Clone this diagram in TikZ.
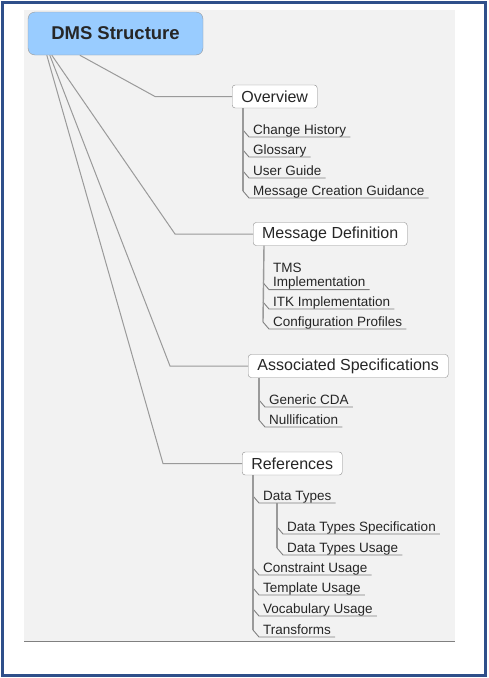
\documentclass[tikz,border=0pt]{standalone}
\usepackage{fontspec}
\setmainfont{Liberation Sans}
\usetikzlibrary{calc}
\definecolor{frame}{HTML}{2F4F8A}
\definecolor{panel}{HTML}{F2F2F2}
\definecolor{rootblue}{HTML}{99CCFF}
\definecolor{linegray}{HTML}{9A9A9A}
\definecolor{txt}{HTML}{262626}
\newcommand\mmkid[4]{%
  \node[item] (#1) at (#2,#3) {#4};
  \draw[uline] ($(#1.base west)+(-10,-4)$) -- ($(#1.base west)+(-4,3)$) -- ($(#1.base east)+(4,3)$);
}
\begin{document}
\begin{tikzpicture}[x=1pt,y=-1pt,
  rootbox/.style={draw=black!40, fill=rootblue, rounded corners=7pt, minimum width=175pt, minimum height=43pt, inner sep=0pt, font=\fontsize{18.5}{21}\selectfont\bfseries, text=txt},
  topic/.style={draw=black!45, fill=white, rounded corners=3pt, minimum height=23pt, inner sep=0pt, anchor=west, font=\fontsize{16}{19}\selectfont, text=txt},
  item/.style={anchor=base west, inner sep=0pt, font=\fontsize{13.5}{14.5}\selectfont, text=txt},
  link/.style={draw=linegray, line width=1pt},
  trunk/.style={draw=linegray, line width=1.4pt},
  uline/.style={draw=black!50, line width=0.9pt}]
\useasboundingbox (0,0) rectangle (488,678);
\fill[white] (0,0) rectangle (488,678);
\fill[panel] (24,10) rectangle (455,641);
\draw[black!50, line width=1pt] (24,641) -- (455,641);
\draw[frame, line width=3pt] (2.5,2.5) rectangle (485.5,675.5);

% root and topics
\node[rootbox] (root) at (115.5,33.5) {DMS Structure};
\node[topic, minimum width=85pt] (ov) at (232,96.5) {Overview};
\node[topic, minimum width=154pt] (md) at (253,234) {Message Definition};
\node[topic, minimum width=200pt] (as) at (248,366) {Associated Specifications};
\node[topic, minimum width=100pt] (ref) at (242,463.5) {References};

% main connectors
\draw[link] ($(root.south west)+(52,0)$) -- (155,96.5) -- (ov.west);
\draw[link] ($(root.south west)+(24,0)$) -- (175,234) -- (md.west);
\draw[link] ($(root.south west)+(22,0)$) -- (170,366) -- (as.west);
\draw[link] ($(root.south west)+(19,0)$) -- (163,463.5) -- (ref.west);

% Overview children
\mmkid{ch}{253}{134}{Change History}
\mmkid{gl}{253}{154}{Glossary}
\mmkid{ug}{253}{175}{User Guide}
\mmkid{mcg}{253}{195}{Message Creation Guidance}
\draw[trunk] ($(ov.south west)+(11,0)$) -- ($(mcg.base west)+(-10,-4)$);

% Message Definition children
\node[item, anchor=north west, align=left] (tms) at (273,262.5) {TMS\\Implementation};
\draw[uline] ($(tms.south west)+(-10,-7)$) -- ($(tms.south west)+(-4,0)$) -- ($(tms.south east)+(4,0)$);
\mmkid{itk}{273}{306}{ITK Implementation}
\mmkid{cp}{273}{326}{Configuration Profiles}
\draw[trunk] ($(md.south west)+(11,0)$) -- ($(cp.base west)+(-10,-4)$);

% Associated Specifications children
\mmkid{cda}{269}{404}{Generic CDA}
\mmkid{nul}{269}{424}{Nullification}
\draw[trunk] ($(as.south west)+(11,0)$) -- ($(nul.base west)+(-10,-4)$);

% References children
\mmkid{dt}{263}{500}{Data Types}
\mmkid{dts}{287}{531}{Data Types Specification}
\mmkid{dtu}{287}{552}{Data Types Usage}
\draw[trunk] ($(dt.base west)+(14,3)$) -- ($(dtu.base west)+(-10,-4)$);
\mmkid{cu}{263}{572}{Constraint Usage}
\mmkid{tu}{263}{592}{Template Usage}
\mmkid{vu}{263}{613}{Vocabulary Usage}
\mmkid{tr}{263}{634}{Transforms}
\draw[trunk] ($(ref.south west)+(11,0)$) -- ($(tr.base west)+(-10,-4)$);
\end{tikzpicture}
\end{document}
